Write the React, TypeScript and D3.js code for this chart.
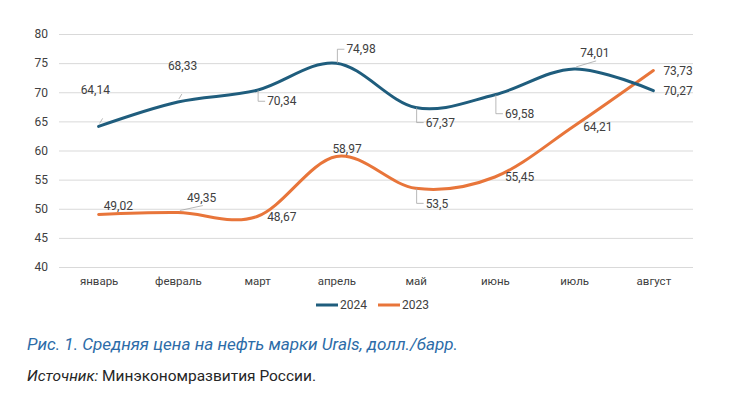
import React, { useEffect, useRef } from 'react'
import * as d3 from 'd3'

// Urals average price, USD/bbl
const months = ['январь', 'февраль', 'март', 'апрель', 'май', 'июнь', 'июль', 'август']
const values2024 = [64.14, 68.33, 70.34, 74.98, 67.37, 69.58, 74.01, 70.27]
const values2023 = [49.02, 49.35, 48.67, 58.97, 53.5, 55.45, 64.21, 73.73]
const yTicks = [40, 45, 50, 55, 60, 65, 70, 75, 80]

// label placement: offset of the label's left/middle from the point, leader kind
const labels2024 = [
  { dx: -18, dy: -37, leader: 'tick' },
  { dx: -10, dy: -36, leader: 'tick' },
  { dx: 10, dy: 11, leader: 'elbow' },
  { dx: 10, dy: -14, leader: 'elbow' },
  { dx: 10, dy: 15, leader: 'elbow' },
  { dx: 10, dy: 19, leader: 'elbow' },
  { dx: 6, dy: -16, leader: 'diag' },
  { dx: 10, dy: 0, leader: 'none' }
]
const labels2023 = [
  { dx: 5, dy: -9, leader: 'none' },
  { dx: 9, dy: -15, leader: 'diag' },
  { dx: 10, dy: 0, leader: 'none' },
  { dx: -4, dy: -8, leader: 'none' },
  { dx: 10, dy: 15, leader: 'elbow' },
  { dx: 10, dy: 0, leader: 'none' },
  { dx: 9, dy: 1, leader: 'none' },
  { dx: 10, dy: 0, leader: 'none' }
]

const BLUE = '#1f5d7d'
const ORANGE = '#e8753a'
const TEXT = '#404040'
const FONT = 'Roboto, "Noto Sans", sans-serif'

const fmt = (v: number) => String(v).replace('.', ',')

export default function App() {
  const ref = useRef<SVGGElement>(null)

  useEffect(() => {
    const svg = d3.select(ref.current)
    svg.selectAll('*').remove()

    const left = 59
    const right = 693
    const top = 34
    const bottom = 267

    const x = d3.scalePoint<string>().domain(months).range([left, right]).padding(0.5)
    const y = d3.scaleLinear().domain([40, 80]).range([bottom, top])

    // grid
    const yaxis = d3.axisLeft(y).tickValues(yTicks).tickSize(-(right - left)).tickPadding(11)
    const gy = svg.append('g').attr('transform', `translate(${left},0)`).call(yaxis)
    gy.select('.domain').remove()
    gy.selectAll('.tick line').attr('stroke', '#d9d9d9').attr('stroke-width', 1)
    gy.selectAll('.tick text')
      .attr('fill', TEXT)
      .style('font-family', FONT)
      .style('font-size', '12px')

    const xaxis = d3.axisBottom(x).tickSize(0).tickPadding(10)
    const gx = svg.append('g').attr('transform', `translate(0,${bottom})`).call(xaxis)
    gx.select('.domain').remove()
    gx.selectAll('.tick text')
      .attr('fill', TEXT)
      .style('font-family', FONT)
      .style('font-size', '11.5px')

    const line = d3.line<number>()
      .x((_, i) => x(months[i]) as number)
      .y(d => y(d))
      .curve(d3.curveCardinal.tension(0))

    const series = [
      { values: values2023, color: ORANGE, labels: labels2023 },
      { values: values2024, color: BLUE, labels: labels2024 }
    ]

    series.forEach(s => {
      svg.append('path')
        .datum(s.values)
        .attr('fill', 'none')
        .attr('stroke', s.color)
        .attr('stroke-width', 3)
        .attr('stroke-linecap', 'round')
        .attr('d', line)
    })

    series.forEach(s => {
      s.values.forEach((v, i) => {
        const px = x(months[i]) as number
        const py = y(v)
        const lab = s.labels[i]
        const lx = px + lab.dx
        const ly = py + lab.dy
        if (lab.leader === 'elbow') {
          svg.append('path')
            .attr('d', `M${px + 1},${py} V${ly} H${lx - 2}`)
            .attr('fill', 'none')
            .attr('stroke', '#a6a6a6')
            .attr('stroke-width', 0.8)
        } else if (lab.leader === 'diag') {
          svg.append('line')
            .attr('x1', px + 2).attr('y1', py - 2)
            .attr('x2', lx + 16).attr('y2', ly + 8)
            .attr('stroke', '#a6a6a6')
            .attr('stroke-width', 0.8)
        } else if (lab.leader === 'tick') {
          svg.append('line')
            .attr('x1', px + 1).attr('y1', py - 3)
            .attr('x2', px + 4).attr('y2', py - 8)
            .attr('stroke', '#a6a6a6')
            .attr('stroke-width', 0.8)
        }
        svg.append('text')
          .attr('x', lx)
          .attr('y', ly)
          .attr('dy', '0.35em')
          .attr('fill', TEXT)
          .style('font-family', FONT)
          .style('font-size', '12px')
          .text(fmt(v))
      })
    })

    // legend
    const legend = [
      { name: '2024', color: BLUE, x: 316 },
      { name: '2023', color: ORANGE, x: 378 }
    ]
    legend.forEach(l => {
      svg.append('line')
        .attr('x1', l.x).attr('x2', l.x + 22)
        .attr('y1', 305).attr('y2', 305)
        .attr('stroke', l.color)
        .attr('stroke-width', 3)
      svg.append('text')
        .attr('x', l.x + 24)
        .attr('y', 305)
        .attr('dy', '0.35em')
        .attr('fill', TEXT)
        .style('font-family', FONT)
        .style('font-size', '12px')
        .text(l.name)
    })
  }, [])

  return (
    <svg
      width={744}
      height={416}
      style={{ position: 'absolute', left: 0, top: 0, background: '#fff' }}
    >
      <g ref={ref} />
      <text
        x={27}
        y={350}
        fill="#2d6ca8"
        fontStyle="italic"
        textLength={431}
        lengthAdjust="spacingAndGlyphs"
        style={{ fontFamily: '"Liberation Sans Narrow", Roboto, sans-serif', fontSize: 17 }}
      >
        Рис. 1. Средняя цена на нефть марки Urals, долл./барр.
      </text>
      <text
        x={27}
        y={381}
        fill="#262626"
        textLength={289}
        lengthAdjust="spacingAndGlyphs"
        style={{ fontFamily: '"Liberation Sans Narrow", Roboto, sans-serif', fontSize: 15 }}
      >
        <tspan fontStyle="italic">Источник:</tspan> Минэкономразвития России.
      </text>
    </svg>
  )
}
